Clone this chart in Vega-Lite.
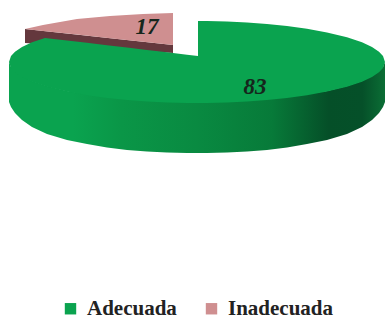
{
  "$schema": "https://vega.github.io/schema/vega-lite/v6.json",
  "width": 385,
  "height": 320,
  "padding": 0,
  "autosize": {"type": "fit", "contains": "padding"},
  "background": "white",
  "config": {"view": {"stroke": null}},
  "datasets": {
    "inadecuada_lado": [
      {"x": -172, "h": 33, "h2": 19},
      {"x": -24, "h": 17, "h2": 9}
    ],
    "inadecuada_cara": [
      {"categoria": "Inadecuada", "x": -172, "h": 33, "h2": 33},
      {"categoria": "Inadecuada", "x": -154, "h": 37, "h2": 31.05},
      {"categoria": "Inadecuada", "x": -120, "h": 43, "h2": 27.4},
      {"categoria": "Inadecuada", "x": -87, "h": 46, "h2": 23.8},
      {"categoria": "Inadecuada", "x": -54, "h": 48, "h2": 20.2},
      {"categoria": "Inadecuada", "x": -24, "h": 49, "h2": 17}
    ],
    "adecuada_lado": [
      {"x": -188, "h": 0, "h2": -40},
      {"x": -186, "h": -5, "h2": -45},
      {"x": -182, "h": -9, "h2": -51},
      {"x": -175, "h": -14, "h2": -58},
      {"x": -165, "h": -19, "h2": -65},
      {"x": -150, "h": -24, "h2": -72},
      {"x": -130, "h": -29, "h2": -78},
      {"x": -110, "h": -32, "h2": -82},
      {"x": -90, "h": -35, "h2": -85.5},
      {"x": -70, "h": -37, "h2": -88},
      {"x": -50, "h": -38.5, "h2": -89.5},
      {"x": -30, "h": -39.5, "h2": -90.5},
      {"x": -10, "h": -40, "h2": -91},
      {"x": 10, "h": -40, "h2": -91},
      {"x": 30, "h": -39.5, "h2": -90.5},
      {"x": 50, "h": -38.5, "h2": -89.5},
      {"x": 70, "h": -37, "h2": -88},
      {"x": 90, "h": -35, "h2": -85.5},
      {"x": 110, "h": -32, "h2": -82},
      {"x": 130, "h": -29, "h2": -78},
      {"x": 150, "h": -24, "h2": -72},
      {"x": 165, "h": -19, "h2": -65},
      {"x": 175, "h": -14, "h2": -58},
      {"x": 182, "h": -9, "h2": -51},
      {"x": 186, "h": -5, "h2": -45},
      {"x": 188, "h": 0, "h2": -40}
    ],
    "adecuada_cara": [
      {"categoria": "Adecuada", "x": -188, "h": 0, "h2": 0},
      {"categoria": "Adecuada", "x": -186, "h": 5.97, "h2": -5.97},
      {"categoria": "Adecuada", "x": -182, "h": 10.28, "h2": -10.28},
      {"categoria": "Adecuada", "x": -175, "h": 14.98, "h2": -14.98},
      {"categoria": "Adecuada", "x": -165, "h": 19.65, "h2": -19.65},
      {"categoria": "Adecuada", "x": -152, "h": 24.1, "h2": -24.1},
      {"categoria": "Adecuada", "x": -150, "h": 23.86, "h2": -24.72},
      {"categoria": "Adecuada", "x": -130, "h": 21.5, "h2": -29.62},
      {"categoria": "Adecuada", "x": -110, "h": 19.13, "h2": -33.25},
      {"categoria": "Adecuada", "x": -90, "h": 16.77, "h2": -36},
      {"categoria": "Adecuada", "x": -70, "h": 14.4, "h2": -38.05},
      {"categoria": "Adecuada", "x": -50, "h": 12.03, "h2": -39.52},
      {"categoria": "Adecuada", "x": -30, "h": 9.67, "h2": -40.47},
      {"categoria": "Adecuada", "x": -10, "h": 7.3, "h2": -40.94},
      {"categoria": "Adecuada", "x": 1, "h": 6, "h2": -41},
      {"categoria": "Adecuada", "x": 1, "h": 41, "h2": -41},
      {"categoria": "Adecuada", "x": 10, "h": 40.94, "h2": -40.94},
      {"categoria": "Adecuada", "x": 30, "h": 40.47, "h2": -40.47},
      {"categoria": "Adecuada", "x": 50, "h": 39.52, "h2": -39.52},
      {"categoria": "Adecuada", "x": 70, "h": 38.05, "h2": -38.05},
      {"categoria": "Adecuada", "x": 90, "h": 36, "h2": -36},
      {"categoria": "Adecuada", "x": 110, "h": 33.25, "h2": -33.25},
      {"categoria": "Adecuada", "x": 130, "h": 29.62, "h2": -29.62},
      {"categoria": "Adecuada", "x": 150, "h": 24.72, "h2": -24.72},
      {"categoria": "Adecuada", "x": 165, "h": 19.65, "h2": -19.65},
      {"categoria": "Adecuada", "x": 175, "h": 14.98, "h2": -14.98},
      {"categoria": "Adecuada", "x": 182, "h": 10.28, "h2": -10.28},
      {"categoria": "Adecuada", "x": 186, "h": 5.97, "h2": -5.97},
      {"categoria": "Adecuada", "x": 188, "h": 0, "h2": 0}
    ],
    "valores": [
      {"categoria": "Adecuada", "valor": 83, "x": 58, "h": -25},
      {"categoria": "Inadecuada", "valor": 17, "x": -50, "h": 35}
    ]
  },
  "encoding": {
    "x": {"field": "x", "type": "quantitative", "axis": null, "scale": {"domain": [-197, 188], "nice": false, "zero": false}},
    "y": {"field": "h", "type": "quantitative", "axis": null, "scale": {"domain": [-258, 62], "nice": false, "zero": false}}
  },
  "layer": [
    {
      "data": {"name": "inadecuada_lado"},
      "mark": {"type": "area", "color": "#64383d"},
      "encoding": {"y2": {"field": "h2"}}
    },
    {
      "data": {"name": "inadecuada_cara"},
      "mark": {"type": "area"},
      "encoding": {
        "y2": {"field": "h2"},
        "color": {
          "field": "categoria",
          "type": "nominal",
          "scale": {"domain": ["Adecuada", "Inadecuada"], "range": ["#0aa34f", "#cf8f90"]},
          "legend": {
            "orient": "none",
            "legendX": 60,
            "legendY": 298,
            "direction": "horizontal",
            "columns": 2,
            "title": null,
            "symbolType": "square",
            "symbolSize": 130,
            "symbolStrokeWidth": 0,
            "symbolOpacity": 1,
            "labelFont": "Liberation Serif",
            "labelFontWeight": "bold",
            "labelFontSize": 21,
            "labelColor": "#222222",
            "labelOffset": 6,
            "columnPadding": 24
          }
        }
      }
    },
    {
      "data": {"name": "adecuada_lado"},
      "mark": {
        "type": "area",
        "color": {
          "gradient": "linear",
          "x1": 0, "y1": 0, "x2": 1, "y2": 0,
          "stops": [
            {"offset": 0, "color": "#0aa34f"},
            {"offset": 0.17, "color": "#0aa34f"},
            {"offset": 0.3, "color": "#0a9647"},
            {"offset": 0.5, "color": "#098a41"},
            {"offset": 0.7, "color": "#077a39"},
            {"offset": 0.85, "color": "#054f28"},
            {"offset": 0.94, "color": "#055029"},
            {"offset": 1, "color": "#0b6e35"}
          ]
        }
      },
      "encoding": {"y2": {"field": "h2"}}
    },
    {
      "data": {"name": "adecuada_cara"},
      "mark": {"type": "area"},
      "encoding": {
        "y2": {"field": "h2"},
        "order": {"value": null},
        "color": {"field": "categoria", "type": "nominal"}
      }
    },
    {
      "data": {"name": "valores"},
      "mark": {
        "type": "text",
        "font": "Liberation Serif",
        "fontStyle": "italic",
        "fontWeight": "bold",
        "fontSize": 23,
        "color": "#16261c"
      },
      "encoding": {"text": {"field": "valor", "type": "quantitative"}}
    }
  ]
}
